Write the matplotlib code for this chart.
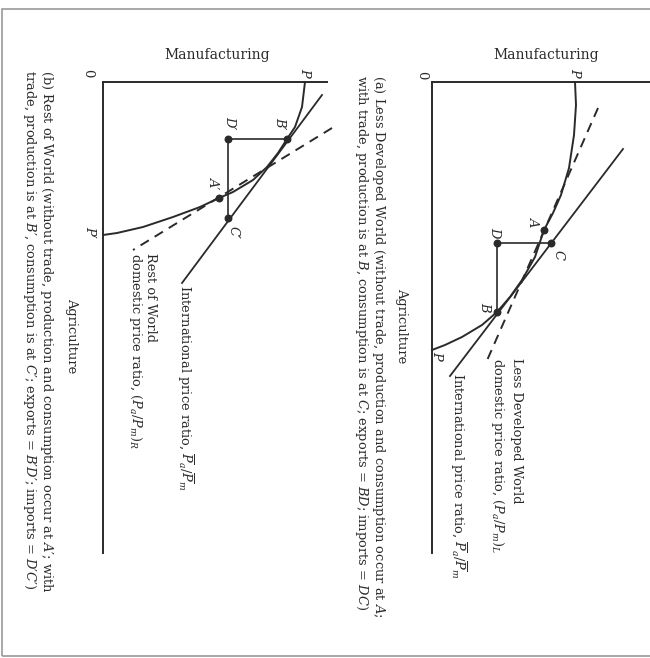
import matplotlib
matplotlib.use('Agg')
import matplotlib.pyplot as plt
from matplotlib.patches import Rectangle

W, H = 650, 658
INK = '#2a2a2a'

# ---------------- data (units: 1 = 10 px of the original drawing) -------------
# x = Manufacturing (to the right), y = Agriculture (downward) -- the figure is rotated
# Panel (a) Less Developed World
a_curve_m = [14.3, 14.4, 14.2, 13.7, 12.9, 12.1, 11.2, 10.3, 9.0, 7.8, 6.5, 5.0, 3.0, 1.3, 0.0]
a_curve_a = [0.0, 2.3, 5.3, 8.6, 11.3, 13.1, 14.8, 17.5, 19.8, 21.5, 23.0, 24.3, 25.5, 26.3, 26.8]
a_labels = ['A', 'C', 'D', 'B']
a_pts_m = [11.2, 11.9, 6.5, 6.5]
a_pts_a = [14.8, 16.1, 16.1, 23.0]
a_trade = ['C', 'D', 'B']            # exports = BD, imports = DC
a_intl_m = [19.1, 1.8]
a_intl_a = [6.7, 29.4]
a_dom_m = [16.6, 5.3]
a_dom_a = [2.6, 28.3]

# Panel (b) Rest of World
b_curve_m = [20.2, 19.9, 19.2, 18.4, 17.5, 16.4, 15.0, 13.0, 11.6, 9.7, 7.0, 4.0, 1.4, 0.0]
b_curve_a = [0.0, 2.5, 4.5, 5.7, 7.1, 8.5, 9.8, 11.0, 11.6, 12.5, 13.5, 14.5, 15.1, 15.3]
b_labels = ["B′", "D′", "A′", "C′"]
b_pts_m = [18.4, 12.5, 11.6, 12.5]
b_pts_a = [5.7, 5.7, 11.6, 13.6]
b_trade = ["B′", "D′", "C′"]         # exports = B'D', imports = D'C'
b_intl_m = [21.9, 7.9]
b_intl_a = [1.3, 20.1]
b_dom_m = [22.9, 3.0]
b_dom_a = [4.6, 16.8]

plt.rcParams['font.family'] = ['DejaVu Serif']
plt.rcParams['mathtext.fontset'] = 'dejavuserif'

FS = 9.4
fig = plt.figure(figsize=(W / 100, H / 100), dpi=100)


def px_axes(left, right, top, bottom):
    return fig.add_axes([left / W, 1 - bottom / H, (right - left) / W, (bottom - top) / H])


def ftext(x, y, s, size=FS, rot=-90, ha='center', va='center', **kw):
    fig.text(x / W, 1 - y / H, s, rotation=rot, ha=ha, va=va, fontsize=size,
             color=INK, **kw)


def panel(ax, mmax, cm, ca, lab, pm, pa, trade, im, ia, dm, da, offsets):
    ax.set_xlim(0, mmax)
    ax.set_ylim(47.1, 0)
    for s in ['bottom', 'right']:
        ax.spines[s].set_visible(False)
    for s in ['top', 'left']:
        ax.spines[s].set_linewidth(1.4)
        ax.spines[s].set_color(INK)
    ax.set_xticks([])
    ax.set_yticks([])
    ax.patch.set_alpha(0)
    ax.plot(cm, ca, color=INK, lw=1.4, clip_on=False, solid_joinstyle='round')
    ax.plot(im, ia, color=INK, lw=1.3, clip_on=False)
    ax.plot(dm, da, color=INK, lw=1.4, ls=(0, (5, 3.5)), clip_on=False)
    idx = [lab.index(t) for t in trade]
    ax.plot([pm[i] for i in idx], [pa[i] for i in idx], color=INK, lw=1.2)
    ax.scatter(pm, pa, s=22, color=INK, zorder=5, clip_on=False)
    for l, x, y, off in zip(lab, pm, pa, offsets):
        ax.annotate(l, (x, y), xytext=off, textcoords='offset pixels', rotation=-90,
                    ha='center', va='center', fontsize=FS, style='italic', color=INK)


def end_label(ax, s, x, y, off):
    ax.annotate(s, (x, y), xytext=off, textcoords='offset pixels', rotation=-90,
                ha='center', va='center', fontsize=FS, style='italic', color=INK,
                annotation_clip=False)


ax_a = px_axes(432, 650, 82, 553)
panel(ax_a, 21.8, a_curve_m, a_curve_a, a_labels, a_pts_m, a_pts_a, a_trade,
      a_intl_m, a_intl_a, a_dom_m, a_dom_a,
      [(-11, 8), (7, -12), (-2, 11), (-12, 5)])
end_label(ax_a, 'P', a_curve_m[0], a_curve_a[0], (0, 10))
end_label(ax_a, 'P', a_curve_m[-1], a_curve_a[-1], (5, -5))

ax_b = px_axes(103, 327, 82, 553)
panel(ax_b, 22.4, b_curve_m, b_curve_a, b_labels, b_pts_m, b_pts_a, b_trade,
      b_intl_m, b_intl_a, b_dom_m, b_dom_a,
      [(-7, 16), (2, 16), (-6, 15), (5, -14)])
end_label(ax_b, 'P', b_curve_m[0], b_curve_a[0], (0, 10))
end_label(ax_b, "P′", b_curve_m[-1], b_curve_a[-1], (-13, 3))

# axis titles and origins
ftext(546, 55, 'Manufacturing', size=10, rot=0)
ftext(217, 55, 'Manufacturing', size=10, rot=0)
ftext(402, 326, 'Agriculture')
ftext(72, 336, 'Agriculture')
ftext(422, 75, '0')
ftext(88, 73, '0')

# line labels, panel (a)
ftext(506, 358, 'Less Developed World\n' + r'domestic price ratio, $(P_a/P_m)_L$',
      va='top', multialignment='left', linespacing=1.35)
ftext(458, 373, r'International price ratio, $\overline{P}_a/\overline{P}_m$', va='top')
# line labels, panel (b)
ftext(142, 253, 'Rest of World\n' + r'domestic price ratio, $(P_a/P_m)_R$',
      va='top', multialignment='left', linespacing=0.95)
ftext(185, 285, r'International price ratio, $\overline{P}_a/\overline{P}_m$', va='top')

# captions
ftext(370, 75, r'(a) Less Developed World (without trade, production and consumption occur at $A$;'
      '\n' r'with trade, production is at $B$, consumption is at $C$; exports = $BD$; imports = $DC$)',
      va='top', multialignment='left', linespacing=1.0)
ftext(38, 70, r"(b) Rest of World (without trade, production and consumption occur at $A$′; with"
      '\n' r"trade, production is at $B$′, consumption is at $C$′; exports = $B$′$D$′; imports = $D$′$C$′)",
      va='top', multialignment='left', linespacing=1.0)

# scanned page frame (right edge runs off the page)
fig.add_artist(Rectangle((2 / W, 1 - 656 / H), 700 / W, (656 - 9) / H,
                         transform=fig.transFigure, fill=False, edgecolor='#9a9a9a', lw=1.2))

fig.savefig('out.png', dpi=100)
